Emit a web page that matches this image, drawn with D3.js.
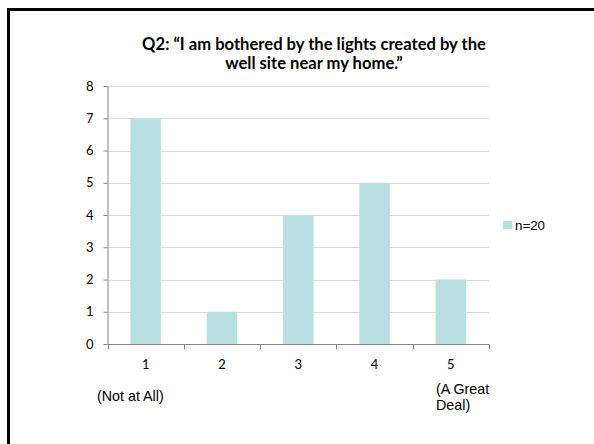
<!DOCTYPE html>
<html><head><meta charset="utf-8">
<script src="https://cdn.jsdelivr.net/npm/d3@7"></script>
<style>body{margin:0;background:#fff}svg{display:block}</style>
</head><body>
<svg id="c" width="594" height="444"></svg>
<script>
const categories = ["1","2","3","4","5"];
const values = [7,1,4,5,2];
const yTicks = [0,1,2,3,4,5,6,7,8];
const seriesName = "n=20";
const titleLines = ["Q2: \u201cI am bothered by the lights created by the", "well site near my home.\u201d"];
const lowLabel = ["(Not at All)"];
const highLabel = ["(A Great", "Deal)"];

(function(){
const svg = d3.select("#c");
const pL = 107.5, pR = 489, pT = 86, pB = 344;
const x = d3.scaleBand().domain(categories).range([pL, pR]).paddingInner(0.6).paddingOuter(0.3);
const xb = d3.scaleBand().domain(categories).range([pL, pR]);
const y = d3.scaleLinear().domain([0,8]).range([pB, pT]);
const color = "#b9dfe2";
const numFont = "Lato, 'Open Sans', sans-serif";
const sansFont = "'Liberation Sans', Arial, sans-serif";

// border
svg.append("path").attr("d", `M8.5,444 V9.5 H594`).attr("fill","none").attr("stroke","#000").attr("stroke-width",3);

// title
svg.append("g").selectAll("text").data(titleLines).join("text")
  .attr("x", 314).attr("y",(d,i)=>50+i*18.5).attr("text-anchor","middle")
  .attr("font-family", numFont).attr("font-weight","bold").attr("font-size",16.6).attr("fill","#000").text(d=>d);

// gridlines
svg.append("g").selectAll("line").data(yTicks.filter(d=>d>0)).join("line")
  .attr("x1",pL).attr("x2",pR).attr("y1",d=>Math.round(y(d))+0.5).attr("y2",d=>Math.round(y(d))+0.5)
  .attr("stroke","#d9d9d9").attr("stroke-width",1);

// bars
svg.append("g").selectAll("rect").data(values).join("rect")
  .attr("x",(d,i)=>x(categories[i])).attr("width",x.bandwidth())
  .attr("y",d=>y(d)).attr("height",d=>y(0)-y(d)).attr("fill",color);

// y axis
const yAxis = d3.axisLeft(y).tickValues(yTicks).tickSize(4).tickPadding(10);
const gy = svg.append("g").attr("transform",`translate(${pL},0)`).call(yAxis);
gy.select(".domain").attr("stroke","#868686").attr("d",`M0.5,${pT}V${pB}`);
gy.selectAll(".tick line").attr("stroke","#868686");
gy.selectAll(".tick text").attr("font-family",numFont).attr("font-size",13).attr("fill","#000");

// x axis
const xAxis = d3.axisBottom(xb).tickSize(0).tickPadding(15);
const gx = svg.append("g").attr("transform",`translate(0,${pB+0.5})`).call(xAxis);
gx.select(".domain").attr("stroke","#868686").attr("d",`M${pL},0H${pR}`);
gx.selectAll(".tick text").attr("font-family",numFont).attr("font-size",13).attr("fill","#000");
const bounds = categories.map(c=>xb(c)).concat([pR]);
gx.append("g").selectAll("line").data(bounds).join("line")
  .attr("x1",d=>Math.round(d)+0.5).attr("x2",d=>Math.round(d)+0.5).attr("y1",0).attr("y2",5).attr("stroke","#868686");

// end labels
svg.append("g").selectAll("text").data(lowLabel).join("text")
  .attr("x",97).attr("y",(d,i)=>401+i*16).attr("font-family",sansFont).attr("font-size",14.3).attr("fill","#000").text(d=>d);
svg.append("g").selectAll("text").data(highLabel).join("text")
  .attr("x",436).attr("y",(d,i)=>394+i*16).attr("font-family",sansFont).attr("font-size",14.3).attr("fill","#000").text(d=>d);

// legend
const lg = svg.append("g").attr("transform","translate(503,221)");
lg.append("rect").attr("width",9).attr("height",8).attr("fill",color);
lg.append("text").attr("x",12).attr("y",9).attr("font-family",sansFont).attr("font-size",13.3).attr("fill","#000").text(seriesName);
})();
</script>
</body></html>
